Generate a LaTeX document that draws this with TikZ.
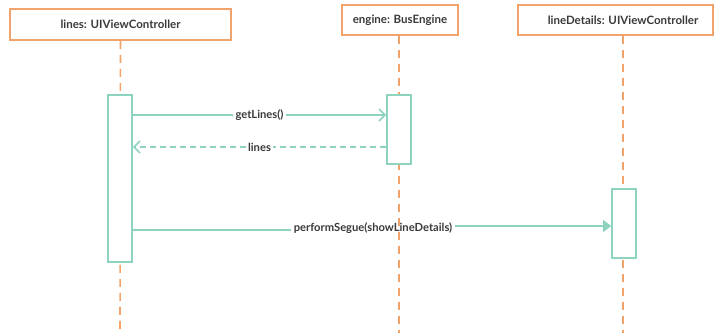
\documentclass[tikz,border=0pt]{standalone}
\usepackage{fontspec}
\setmainfont{Lato}
\usetikzlibrary{arrows.meta}
\definecolor{hdr}{HTML}{F0A46C}
\definecolor{seqteal}{HTML}{8ED3C0}
\definecolor{txt}{HTML}{3A3A3A}
\pgfdeclarelayer{msgs}
\pgfdeclarelayer{lifes}
\pgfsetlayers{msgs,lifes,main}
\begin{document}
\begin{tikzpicture}[x=1pt,y=-1pt,
  hdrbox/.style={draw=hdr, line width=1.5pt, fill=white, inner sep=0pt},
  hdrtext/.style={text=txt, font=\bfseries\fontsize{11.5}{13}\selectfont, inner sep=0pt},
  life/.style={draw=hdr, line width=1.6pt, dash pattern=on 8pt off 6pt},
  actbox/.style={draw=seqteal, line width=1.6pt, fill=white, inner sep=0pt, minimum width=24pt},
  msg/.style={draw=seqteal, line width=1.7pt},
  lbl/.style={fill=white, text=txt, font=\bfseries\fontsize{11.2}{13}\selectfont, inner sep=2.5pt},
  opentip/.style={-{Straight Barb[length=6pt,width=12pt]}},
  filledtip/.style={-{Triangle[length=8pt,width=12pt]}}
]
\useasboundingbox (0,0) rectangle (716,333);

% headers
\node[hdrbox, minimum width=221pt, minimum height=31pt] (hA) at (120.5,24.5) {};
\node[hdrtext] (hAt) at (120.5,24.5) {lines: UIViewController};
\node[hdrbox, minimum width=116pt, minimum height=30pt] (hB) at (400,20) {};
\node[hdrtext] (hBt) at (400,20) {engine: BusEngine};
\node[hdrbox, minimum width=195pt, minimum height=30pt] (hC) at (615.5,20) {};
\node[hdrtext] (hCt) at (623,20) {lineDetails: UIViewController};

% activations
\node[actbox, minimum height=167pt] (actA) at (120,178.5) {};
\node[actbox, minimum height=69pt] (actB) at (399,129.5) {};
\node[actbox, minimum height=69pt] (actC) at (624,223.5) {};

% lifelines
\coordinate (endA) at (120,333);
\coordinate (endB) at (399,333);
\coordinate (endC) at (623,333);
\begin{pgfonlayer}{lifes}
\draw[life] (hAt |- hA.south) -- (endA);
\draw[life] (hB.south -| endB) -- (endB);
\draw[life] (hC.south -| endC) -- (endC);
\end{pgfonlayer}

% messages
\begin{pgfonlayer}{msgs}
\draw[msg, opentip] (actA.east |- 0,115) -- (actB.west |- 0,115)
  node[lbl, midway] (m1) {getLines()};
\draw[msg, opentip, dash pattern=on 6pt off 4pt] (actB.west |- 0,147) -- (actA.east |- 0,147)
  node[lbl, midway] (m2) {lines};
\draw[msg, filledtip] (actA.east |- 0,230) -- (373,230) -- (373,226) -- (actC.west |- 0,226);
\node[lbl] (m3) at (373,228.5) {performSegue(showLineDetails)};
\end{pgfonlayer}
\end{tikzpicture}
\end{document}
